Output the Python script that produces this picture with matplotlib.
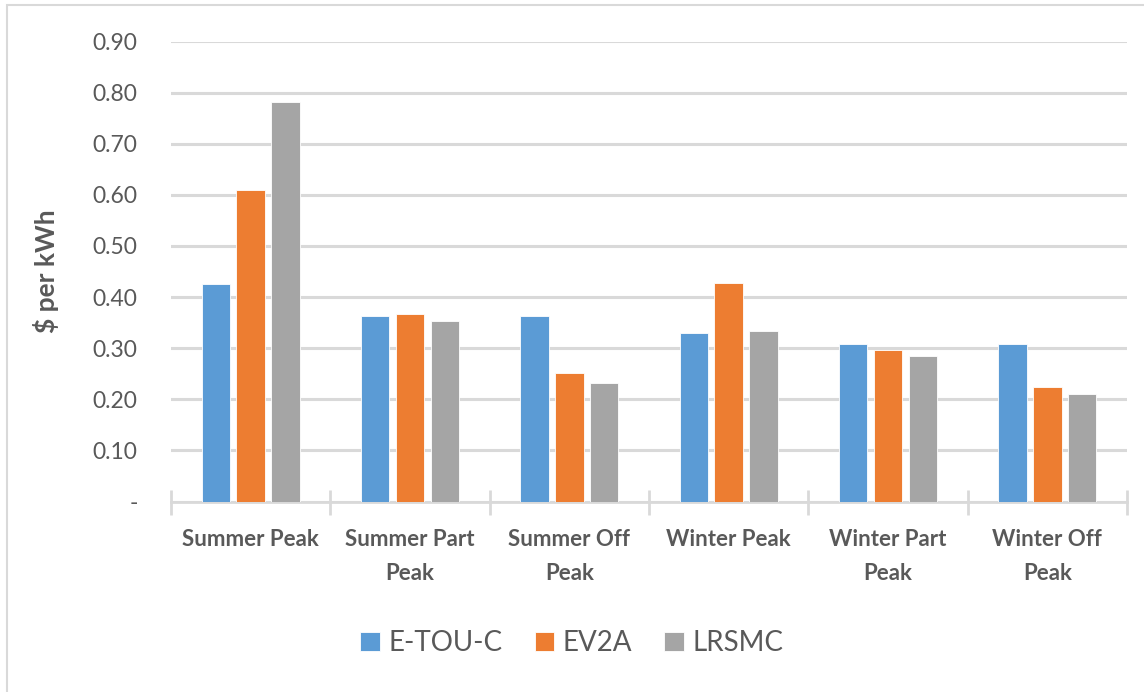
import numpy as np
import matplotlib
matplotlib.use('Agg')
import matplotlib.pyplot as plt
from matplotlib.patches import Rectangle

# values ($ per kWh)
periods = ['Summer Peak', 'Summer Part\nPeak', 'Summer Off\nPeak',
           'Winter Peak', 'Winter Part\nPeak', 'Winter Off\nPeak']
e_tou_c = [0.425, 0.362, 0.362, 0.329, 0.309, 0.309]
ev2a = [0.610, 0.366, 0.252, 0.428, 0.297, 0.224]
lrsmc = [0.782, 0.353, 0.231, 0.334, 0.284, 0.211]
series_names = ['E-TOU-C', 'EV2A', 'LRSMC']
colors = ['#5B9BD5', '#ED7D31', '#A5A5A5']
yticks = [0, 0.1, 0.2, 0.3, 0.4, 0.5, 0.6, 0.7, 0.8, 0.9]

TEXT = '#595959'
GRID = '#D9D9D9'
FONT = 'Lato'

fig = plt.figure(figsize=(11.44, 6.92), dpi=100)
ax = fig.add_axes([171 / 1144, 1 - 501.5 / 692, (1127 - 171) / 1144, (501.5 - 41.5) / 692])

x = np.arange(len(periods))
width = 0.179
step = 0.219
for i, (vals, name) in enumerate(zip([e_tou_c, ev2a, lrsmc], series_names)):
    ax.bar(x + (i - 1) * step, vals, width, color=colors[i], label=name,
           edgecolor='white', linewidth=0.6, zorder=3)

ax.set_xlim(-0.5, len(periods) - 0.5)
ax.set_ylim(0, 0.9)
ax.set_yticks(yticks)
ax.set_yticklabels(['-' if v == 0 else f'{v:.2f}' for v in yticks],
                   fontsize=16.5, color=TEXT, family=FONT)
ax.yaxis.grid(True, color=GRID, linewidth=2.2, zorder=0)
ax.tick_params(axis='y', length=0, pad=24)

# category labels centred, tick marks at category boundaries
ax.set_xticks(x)
ax.set_xticklabels(periods, fontsize=16, fontweight='bold', color=TEXT,
                   family=FONT, linespacing=1.75)
ax.tick_params(axis='x', length=0, pad=20)
ax.set_xticks(np.arange(-0.5, len(periods)), minor=True)
ax.tick_params(axis='x', which='minor', direction='inout', length=18,
               width=2, color=GRID)

for side in ['top', 'right', 'left']:
    ax.spines[side].set_visible(False)
ax.spines['bottom'].set_color(GRID)
ax.spines['bottom'].set_linewidth(2)

ax.set_ylabel('$ per kWh', fontsize=19, fontweight='bold', color=TEXT,
              family=FONT, labelpad=24)

leg = fig.legend(loc='center', bbox_to_anchor=(0.5, 1 - 643 / 692), ncol=3,
                 frameon=False, handlelength=0.7, handleheight=0.7,
                 handletextpad=0.32, columnspacing=1.15,
                 prop={'family': FONT, 'size': 20})
for t in leg.get_texts():
    t.set_color(TEXT)

# outer chart border
fig.patches.append(Rectangle((7 / 1144, -0.01), 1.02, 1 - 5 / 692 + 0.01,
                             transform=fig.transFigure, fill=False,
                             edgecolor=GRID, linewidth=1.5))

fig.savefig('out.png', dpi=100, facecolor='white')
